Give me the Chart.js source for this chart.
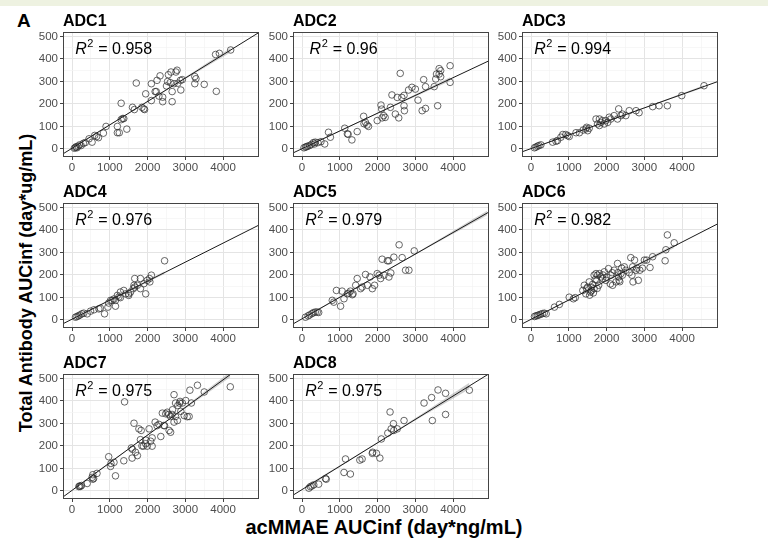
<!DOCTYPE html>
<html><head><meta charset="utf-8">
<script src="https://cdn.jsdelivr.net/npm/chart.js@4/dist/chart.umd.min.js"></script>
<style>
body{margin:0;background:#fff;width:768px;height:540px;overflow:hidden;position:relative;font-family:"Liberation Sans",Arial,sans-serif;}
canvas{position:absolute;}
#strip{position:absolute;left:0;top:0;width:768px;height:6px;background:#eef2e1;}
.lbl{position:absolute;font-weight:bold;color:#000;white-space:nowrap;line-height:1;}
</style></head><body>
<div id="strip"></div>
<div class="lbl" style="left:17px;top:11px;font-size:19px;">A</div>
<div class="lbl" style="left:26px;top:283px;font-size:18px;transform:translate(-50%,-50%) rotate(-90deg);">Total Antibody AUCinf (day*ug/mL)</div>
<div class="lbl" style="left:384px;top:527px;font-size:20px;transform:translate(-50%,-50%);">acMMAE AUCinf (day*ng/mL)</div>
<script>
// ---------------- data ----------------
const panelNames = ['ADC1','ADC2','ADC3','ADC4','ADC5','ADC6','ADC7','ADC8'];
const r2Values = ['0.958','0.96','0.994','0.976','0.979','0.982','0.975','0.975'];
const xTickLabels = [0,1000,2000,3000,4000];
const yTickLabels = [0,100,200,300,400,500];

const adc1X = [60,90,110,130,160,200,240,300,350,450,530,600,650,700,830,900,1200,1200,1250,1300,1300,1340,1370,1450,1600,1650,1700,1850,1900,1920,1950,2100,2100,2200,2230,2250,2300,2330,2400,2400,2500,2530,2550,2600,2620,2650,2650,2700,2750,2780,2800,2870,2880,2920,3250,3250,3280,3500,3800,3820,3900,4200];
const adc1Y = [3,6,10,5,12,18,15,25,28,45,30,60,55,50,70,100,100,72,72,203,130,135,135,88,185,175,293,185,178,175,245,290,215,255,255,305,235,325,210,230,280,300,330,295,342,255,210,290,342,350,292,305,262,308,322,290,312,287,420,256,425,440];

const adc2X = [50,90,120,150,200,250,300,330,350,420,500,600,700,750,1130,1200,1220,1320,1460,1630,1640,1680,1720,1760,1990,2090,2110,2120,2160,2200,2340,2380,2470,2520,2560,2600,2640,2700,2700,2710,2820,2910,3000,3070,3180,3220,3270,3270,3500,3540,3560,3590,3630,3630,3670,3670,3920,3920];
const adc2Y = [5,8,10,12,15,20,28,22,30,28,32,22,74,52,92,67,65,40,77,145,112,118,106,100,126,195,177,138,148,140,185,240,155,229,138,336,229,238,192,170,262,274,266,217,170,308,180,277,277,311,333,192,333,357,348,321,370,296];

const adc3X = [90,130,170,210,260,570,660,700,790,840,920,970,1010,1190,1280,1380,1450,1470,1540,1500,1720,1760,1810,1810,1850,1890,1940,1980,2030,2070,2110,2200,2290,2320,2380,2420,2510,2600,2780,2860,3220,3390,3610,3990,4580];
const adc3Y = [5,8,12,15,18,30,34,37,52,64,64,59,55,72,72,84,89,96,92,81,133,111,133,104,118,126,111,126,118,141,133,148,133,178,148,155,148,170,170,161,188,192,192,237,281];

const adc4X = [90,130,170,210,260,310,400,490,580,710,750,860,950,970,1020,1060,1110,1150,1150,1200,1240,1280,1280,1370,1420,1500,1500,1550,1620,1640,1660,1660,1730,1810,1810,1900,1950,1990,2050,2100,2060,2450];
const adc4Y = [12,15,18,22,27,30,27,39,45,49,52,27,57,75,87,87,93,87,61,109,102,124,99,131,116,116,109,124,139,154,146,184,154,184,139,161,116,176,184,199,169,263];

const adc5X = [90,160,200,260,300,350,400,440,800,840,910,1020,1060,1110,1200,1240,1280,1330,1350,1420,1460,1550,1590,1680,1730,1800,1860,1920,1990,2040,2080,2120,2170,2260,2300,2300,2350,2430,2570,2650,2740,2830,2970];
const adc5Y = [12,18,22,28,32,35,35,33,87,79,131,61,128,94,116,119,128,112,116,154,184,139,146,202,154,191,139,154,206,199,184,270,199,263,263,191,209,279,334,277,221,221,307];

const adc6X = [90,130,170,210,250,300,350,400,620,750,1010,1120,1170,1370,1410,1450,1470,1500,1540,1550,1570,1590,1600,1630,1650,1670,1670,1700,1720,1740,1750,1760,1790,1810,1850,1890,1900,1940,1980,2000,2050,2100,2110,2150,2160,2200,2250,2290,2300,2320,2330,2350,2380,2400,2420,2470,2510,2600,2640,2670,2690,2700,2740,2780,2800,2840,2880,2950,3000,3060,3150,3220,3550,3570,3610,3790];
const adc6Y = [15,18,20,22,25,28,30,27,57,69,101,94,99,131,154,116,139,146,169,110,124,146,130,158,120,139,199,180,206,176,140,199,154,206,191,184,200,214,176,190,228,160,199,210,154,221,169,251,210,191,176,170,206,230,199,236,221,210,277,199,236,169,266,221,230,176,221,230,266,266,233,281,263,312,378,343];

const adc7X = [180,200,220,250,400,530,550,550,570,660,970,1020,1030,1110,1150,1370,1390,1570,1590,1600,1640,1680,1730,1770,1810,1830,1850,1890,1950,1950,1990,2040,2080,2120,2120,2200,2250,2300,2350,2390,2430,2450,2480,2520,2560,2570,2610,2610,2650,2660,2700,2700,2740,2740,2790,2800,2850,2860,2880,2920,2970,3010,3050,3100,3120,3160,3320,3500,4190];
const adc7Y = [19,22,20,24,33,60,72,52,55,78,152,109,122,127,67,134,396,191,146,185,301,172,157,276,228,269,200,199,226,210,199,276,221,199,236,306,290,296,242,346,291,290,343,350,340,269,261,331,340,361,428,306,331,391,313,380,390,398,354,391,335,402,330,331,448,391,470,440,463];

const adc8X = [180,220,260,310,440,620,640,1110,1150,1280,1530,1590,1860,1870,1970,2060,2100,2270,2330,2360,2420,2430,2520,2700,3230,3430,3450,3600,3800,3800,4430];
const adc8Y = [12,19,22,27,30,55,52,82,142,75,137,142,167,172,167,146,231,257,351,276,299,269,276,313,391,415,313,449,434,340,448];

// fitted line y-values read at the left and right panel edges (x = -240 and x = 4950)
const fitLineY = [[-22,518],[-18,392],[-13,300],[-17,422],[-18,480],[-18,428],[-27,611],[-19,521]];
// confidence band: x extent and half-width (start, middle, end)
const bandX = [[60,4200],[50,3920],[90,4580],[90,2450],[90,4900],[90,3790],[180,4190],[180,4430]];
const bandHalf = [[4,2,10],[3,2,8],[2,1,5],[3,2,6],[3,2,10],[3,2,8],[4,2,12],[5,3,14]];

const allX = [adc1X,adc2X,adc3X,adc4X,adc5X,adc6X,adc7X,adc8X];
const allY = [adc1Y,adc2Y,adc3Y,adc4Y,adc5Y,adc6Y,adc7Y,adc8Y];

// ---------------- layout ----------------
const X_MIN = -240, X_MAX = 4950, Y_MIN = -36, Y_MAX = 520;
const colLeft = [63,293,522];
const rowTop = [32,203,374];
const PW = 196, PH = 125, YAX = 36, TOPPAD = 28, XAX = 20, RPAD = 6;
const xGridVals = [0,500,1000,1500,2000,2500,3000,3500,4000,4500];
const yGridVals = [0,50,100,150,200,250,300,350,400,450,500];
const FONT = '"Liberation Sans", Arial, sans-serif';

const panelDeco = {
  id: 'panelDeco',
  afterDraw(chart) {
    const o = chart.options.plugins.panelDeco;
    const {ctx, chartArea: a, scales} = chart;
    ctx.save();
    ctx.strokeStyle = '#444';
    ctx.lineWidth = 1;
    ctx.strokeRect(Math.round(a.left) + 0.5, Math.round(a.top) + 0.5,
                   Math.round(a.right - a.left) - 1, Math.round(a.bottom - a.top) - 1);
    // panel title
    ctx.fillStyle = '#000';
    ctx.font = 'bold 16px ' + FONT;
    ctx.textBaseline = 'alphabetic';
    ctx.textAlign = 'left';
    ctx.fillText(o.title, a.left, a.top - 6);
    // R^2 label
    const px = scales.x.getPixelForValue(1100);
    const py = scales.y.getPixelForValue(450);
    const fMain = '16px ' + FONT, fIt = 'italic 16px ' + FONT, fSup = '11px ' + FONT;
    const rest = ' = ' + o.r2;
    ctx.font = fIt; const wR = ctx.measureText('R').width;
    ctx.font = fSup; const w2 = ctx.measureText('2').width;
    ctx.font = fMain; const wRest = ctx.measureText(rest).width;
    const total = wR + w2 + 1 + wRest;
    let x0 = px - total / 2;
    const base = py + 5.8;
    ctx.font = fIt; ctx.fillText('R', x0, base); x0 += wR + 0.5;
    ctx.font = fSup; ctx.fillText('2', x0, base - 6.5); x0 += w2 + 0.5;
    ctx.font = fMain; ctx.fillText(rest, x0, base);
    ctx.restore();
  }
};

function lineAt(i, x) {
  const [y0, y1] = fitLineY[i];
  return y0 + (y1 - y0) * (x - X_MIN) / (X_MAX - X_MIN);
}

panelNames.forEach((name, i) => {
  const col = i % 3, row = Math.floor(i / 3);
  const cv = document.createElement('canvas');
  const W = YAX + PW + RPAD, H = TOPPAD + PH + XAX;
  cv.width = W; cv.height = H;
  cv.style.width = W + 'px'; cv.style.height = H + 'px';
  cv.style.left = (colLeft[col] - YAX) + 'px';
  cv.style.top = (rowTop[row] - TOPPAD) + 'px';
  document.body.appendChild(cv);

  const pts = allX[i].map((x, k) => ({x: x, y: allY[i][k]}));
  const [bs, be] = bandX[i];
  const bxs = [bs, (bs + be) / 2, be];
  const upper = bxs.map((x, k) => ({x: x, y: lineAt(i, x) + bandHalf[i][k]}));
  const lower = bxs.map((x, k) => ({x: x, y: lineAt(i, x) - bandHalf[i][k]}));
  const fit = [{x: X_MIN, y: fitLineY[i][0]}, {x: X_MAX, y: fitLineY[i][1]}];

  const isMajX = v => xTickLabels.includes(v);
  const isMajY = v => yTickLabels.includes(v);

  new Chart(cv, {
    type: 'scatter',
    data: {
      datasets: [
        {type: 'scatter', data: pts, order: 2, pointStyle: 'circle', pointRadius: 3.3,
         borderWidth: 0.9, borderColor: 'rgba(45,45,45,0.8)', backgroundColor: 'rgba(0,0,0,0)',
         pointBorderColor: 'rgba(45,45,45,0.8)', pointBackgroundColor: 'rgba(0,0,0,0)', pointBorderWidth: 0.9},
        {type: 'line', data: upper, order: 1, borderWidth: 0, pointRadius: 0, fill: '+1',
         backgroundColor: 'rgba(150,150,150,0.45)', borderColor: 'rgba(0,0,0,0)', tension: 0.4},
        {type: 'line', data: lower, order: 1, borderWidth: 0, pointRadius: 0, fill: false,
         borderColor: 'rgba(0,0,0,0)', tension: 0.4},
        {type: 'line', data: fit, order: 0, borderWidth: 1, pointRadius: 0, fill: false,
         borderColor: '#1a1a1a'}
      ]
    },
    options: {
      responsive: false,
      animation: false,
      events: [],
      layout: {padding: {left: 0, top: TOPPAD, right: RPAD, bottom: 0}},
      plugins: {
        legend: {display: false},
        tooltip: {enabled: false},
        panelDeco: {title: name, r2: r2Values[i]}
      },
      scales: {
        x: {
          type: 'linear', min: X_MIN, max: X_MAX,
          afterBuildTicks: s => { s.ticks = xGridVals.map(v => ({value: v})); },
          afterFit: s => { s.height = XAX; },
          border: {display: false},
          grid: {
            color: c => (c.tick && isMajX(c.tick.value)) ? '#e4e4e4' : '#f3f3f3',
            lineWidth: c => (c.tick && isMajX(c.tick.value)) ? 1 : 0.7,
            tickColor: c => (c.tick && isMajX(c.tick.value)) ? '#444' : 'rgba(0,0,0,0)',
            tickLength: 3, drawTicks: true
          },
          ticks: {
            autoSkip: false, maxRotation: 0, minRotation: 0, padding: 1,
            color: '#4d4d4d', font: {family: FONT, size: 11.5},
            callback: v => isMajX(v) ? String(v) : ''
          }
        },
        y: {
          type: 'linear', min: Y_MIN, max: Y_MAX,
          afterBuildTicks: s => { s.ticks = yGridVals.map(v => ({value: v})); },
          afterFit: s => { s.width = YAX; },
          border: {display: false},
          grid: {
            color: c => (c.tick && isMajY(c.tick.value)) ? '#e4e4e4' : '#f3f3f3',
            lineWidth: c => (c.tick && isMajY(c.tick.value)) ? 1 : 0.7,
            tickColor: c => (c.tick && isMajY(c.tick.value)) ? '#444' : 'rgba(0,0,0,0)',
            tickLength: 3, drawTicks: true
          },
          ticks: {
            autoSkip: false, padding: 2,
            color: '#4d4d4d', font: {family: FONT, size: 11.5},
            callback: v => isMajY(v) ? String(v) : ''
          }
        }
      }
    },
    plugins: [panelDeco]
  });
});
</script>
</body></html>
